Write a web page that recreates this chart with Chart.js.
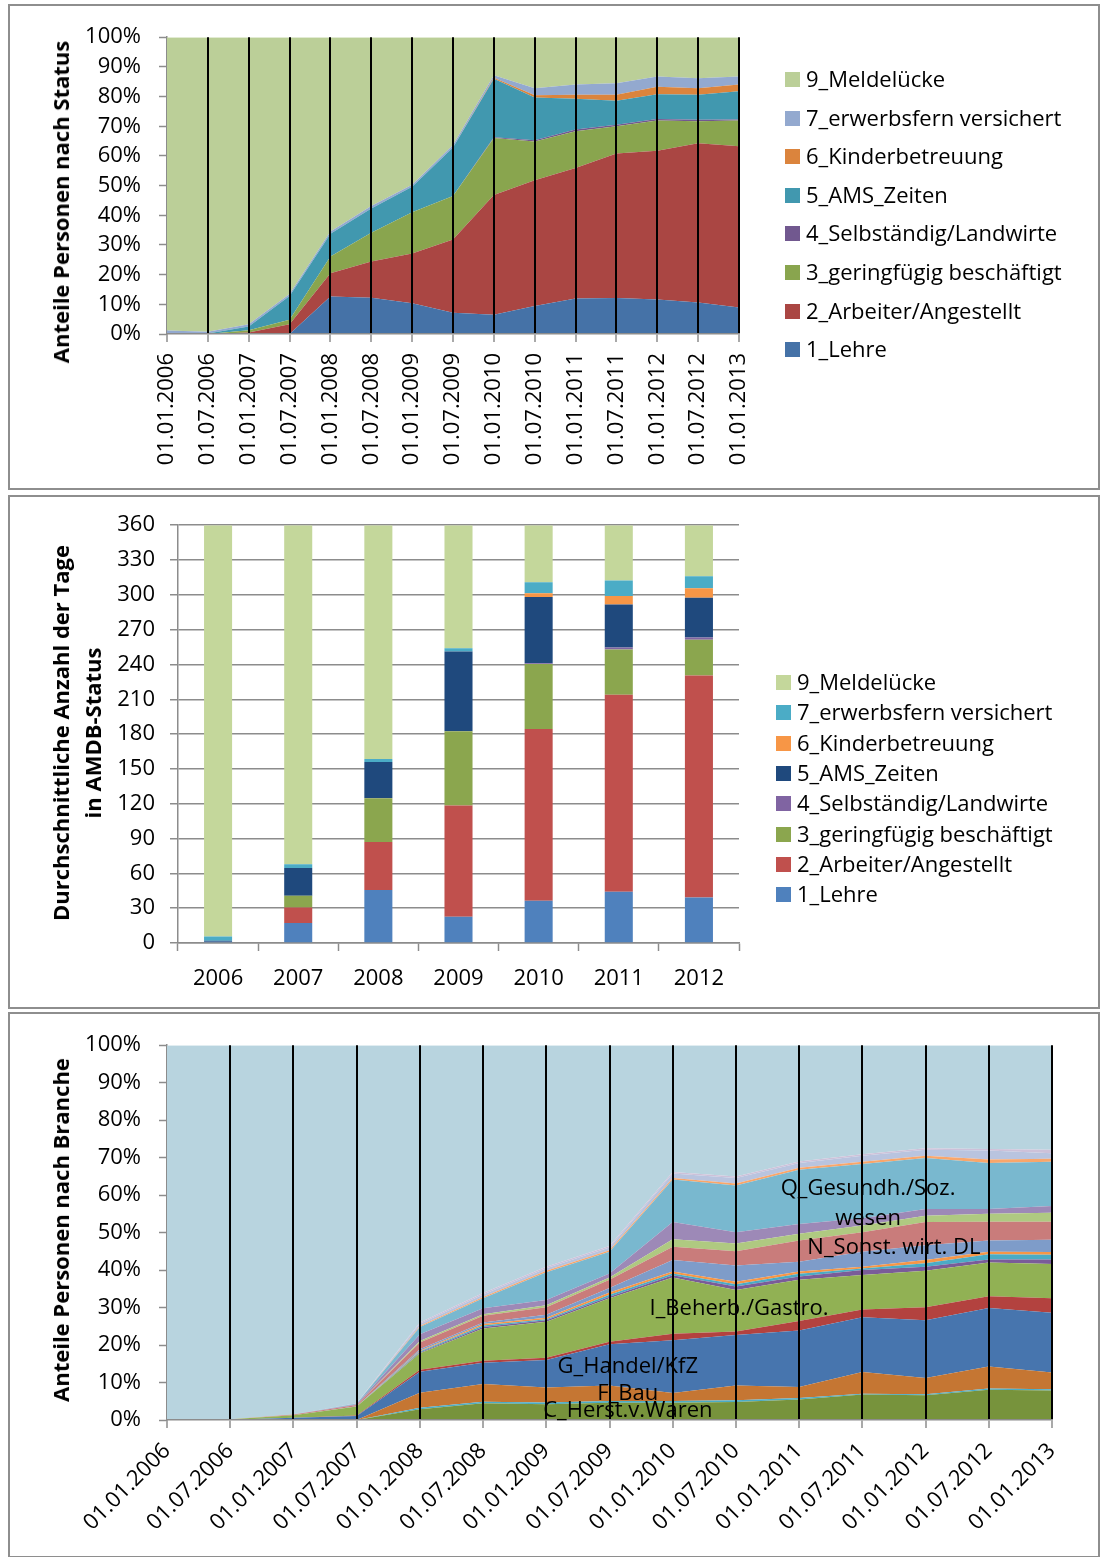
<!DOCTYPE html>
<html lang="de">
<head>
<meta charset="utf-8">
<title>AMDB Status und Branche</title>
<script src="https://cdn.jsdelivr.net/npm/chart.js@4.4.1/dist/chart.umd.min.js"></script>
<style>
  body { margin: 0; background: #fff; font-family: "Open Sans", sans-serif; }
  .panel { position: absolute; left: 8px; width: 1092px; border: 2px solid #8e8e8e; box-sizing: border-box; background: #fff; }
  .panel canvas { position: absolute; left: 0; top: 0; }
  .legend div { position: absolute; white-space: nowrap; height: 26px; line-height: 26px; font-size: 22px; color: #000; }
  .legend span { position: absolute; left: 0; top: 6px; width: 15px; height: 15px; }
  .legend i { font-style: normal; position: absolute; left: 21px; top: -1px; }
  .ytitle { position: absolute; white-space: nowrap; font-weight: bold; font-size: 22px; text-align: center;
            transform: translate(-50%, -50%) rotate(-90deg); color: #000; }
</style>
</head>
<body>
<div class="panel" style="top:4px;height:486px"><canvas id="c1" width="1088" height="482"></canvas></div>
<div class="panel" style="top:495px;height:514px"><canvas id="c2" width="1088" height="510"></canvas></div>
<div class="panel" style="top:1012px;height:546px"><canvas id="c3" width="1088" height="542"></canvas></div>

<div class="ytitle" style="left:60px;top:202px;line-height:26px">Anteile Personen nach Status</div>
<div class="ytitle" style="left:76px;top:733px;line-height:32px">Durchschnittliche Anzahl der Tage<br>in AMDB-Status</div>
<div class="ytitle" style="left:60px;top:1230px;line-height:26px">Anteile Personen nach Branche</div>

<div class="legend" id="leg1"></div>
<div class="legend" id="leg2"></div>

<script>
// ---- data ----
const dateLabels = ['01.01.2006', '01.07.2006', '01.01.2007', '01.07.2007', '01.01.2008', '01.07.2008',
  '01.01.2009', '01.07.2009', '01.01.2010', '01.07.2010', '01.01.2011', '01.07.2011', '01.01.2012',
  '01.07.2012', '01.01.2013'];
const yearLabels = ['2006', '2007', '2008', '2009', '2010', '2011', '2012'];
const statusNames = ['1_Lehre', '2_Arbeiter/Angestellt', '3_geringfügig beschäftigt', '4_Selbständig/Landwirte',
  '5_AMS_Zeiten', '6_Kinderbetreuung', '7_erwerbsfern versichert', '9_Meldelücke'];

// Anteile Personen nach Status (%), je Stichtag
const shareLehre     = [0, 0, 0, 0, 12.6, 12.2, 10.4, 7.2, 6.5, 9.4, 12.0, 12.1, 11.6, 10.6, 8.9];
const shareArbeiter  = [0, 0, 0.5, 3.3, 7.9, 12.2, 16.7, 24.6, 40.3, 42.4, 43.9, 48.7, 50.1, 53.7, 54.4];
const shareGering    = [0, 0, 0.8, 1.5, 5.6, 9.7, 13.9, 14.7, 19.2, 13.1, 12.4, 9.2, 10.2, 7.4, 8.6];
const shareSelbst    = [0, 0, 0, 0, 0, 0, 0, 0, 0.3, 0.4, 0.6, 0.5, 0.5, 0.5, 0.4];
const shareAms       = [0, 0.2, 1.2, 8.0, 7.7, 8.2, 8.6, 16.3, 19.7, 14.4, 10.4, 8.1, 8.4, 8.4, 9.5];
const shareKinder    = [0, 0, 0, 0, 0, 0, 0, 0, 0.3, 0.7, 1.3, 2.0, 2.5, 2.2, 2.3];
const shareErwerb    = [1.2, 0.6, 0.8, 0.7, 0.7, 0.8, 0.7, 0.9, 0.9, 2.4, 3.5, 3.9, 3.5, 3.4, 2.7];
const shareMelde     = [98.8, 99.2, 96.7, 86.5, 65.5, 56.9, 49.7, 36.3, 12.8, 17.2, 15.9, 15.5, 13.2, 13.8, 13.2];

// Durchschnittliche Anzahl der Tage je Jahr
const daysLehre    = [1, 17.2, 45.7, 22.7, 36.5, 44.2, 39.1];
const daysArbeiter = [0, 13.3, 41.4, 95.7, 148, 169.8, 191.3];
const daysGering   = [0, 10.3, 37.6, 64, 56, 38.8, 31];
const daysSelbst   = [0, 0, 0.3, 0.3, 0.5, 1.8, 1.8];
const daysAms      = [1, 23.8, 31.0, 68.4, 57.2, 37, 34.2];
const daysKinder   = [0, 0, 0, 0, 3.2, 7.5, 8.3];
const daysErwerb   = [3.5, 3.2, 2.6, 2.9, 9.5, 13.2, 10.3];
const daysMelde    = [354.5, 292.2, 201.4, 106, 49.1, 47.7, 44.0];

// Anteile Personen nach Branche (%), je Stichtag
const branchNames = ['A_Land/Forst', 'C_Herst.v.Waren', 'D/E_Energie/Wasser', 'F_Bau', 'G_Handel/KfZ', 'H_Verkehr',
  'I_Beherb./Gastro.', 'J_Information', 'K_Finanz', 'L_Grundstücke', 'M_Freiber./techn. DL', 'N_Sonst. wirt. DL',
  'O_Öff. Verwaltung', 'P_Erziehung', 'Q_Gesundh./Soz. wesen', 'R_Kunst/Erholung', 'S_Sonst. DL', 'T_Priv. HH', 'unbekannt'];
const brA   = [0, 0, 0, 0, 0.1, 0.1, 0.3, 0.2, 0.1, 0.1, 0.1, 0.1, 0.1, 0.1, 0.1];
const brC   = [0, 0, 0, 0, 2.8, 4.4, 3.9, 4.4, 4.5, 4.7, 5.4, 6.7, 6.5, 8.0, 7.8];
const brDE  = [0, 0, 0, 0, 0.4, 0.4, 0.5, 0.5, 0.5, 0.5, 0.4, 0.2, 0.3, 0.3, 0.3];
const brF   = [0, 0, 0, 0, 4.0, 4.7, 4.0, 4.1, 2.1, 3.9, 2.9, 5.8, 4.3, 5.9, 4.5];
const brG   = [0, 0.1, 0.6, 1.1, 5.6, 5.7, 7.3, 11.0, 14.1, 13.5, 15.1, 14.6, 15.4, 15.6, 15.9];
const brH   = [0, 0, 0, 0.1, 0.5, 0.5, 0.6, 0.7, 1.7, 0.9, 2.5, 2.1, 3.5, 3.1, 3.9];
const brI   = [0, 0.1, 0.7, 2.4, 4.4, 8.6, 9.6, 11.6, 15.0, 11.1, 11.0, 9.2, 9.7, 9.0, 9.1];
const brJ   = [0, 0, 0, 0, 0.2, 0.4, 0.4, 0.4, 0.6, 0.9, 0.9, 1.3, 1.1, 0.8, 1.2];
const brK   = [0, 0, 0, 0, 0.3, 0.4, 0.3, 0.5, 0.5, 0.6, 0.7, 0.4, 0.9, 1.4, 1.3];
const brL   = [0, 0, 0, 0, 0.2, 0.4, 0.4, 0.6, 0.5, 0.7, 0.6, 0.5, 0.9, 0.7, 0.7];
const brM   = [0, 0, 0, 0.1, 0.4, 0.4, 0.8, 1.2, 3.1, 4.3, 2.6, 4.0, 3.9, 3.0, 3.3];
const brN   = [0, 0, 0.2, 0.3, 1.8, 1.8, 2.0, 2.2, 3.5, 3.8, 5.7, 5.2, 6.2, 5.0, 4.8];
const brO   = [0, 0, 0, 0, 0.4, 0.4, 0.5, 0.6, 2.0, 2.1, 1.8, 1.8, 1.7, 2.1, 2.4];
const brP   = [0, 0, 0, 0.2, 1.8, 1.6, 1.4, 1.1, 4.6, 3.0, 2.6, 1.9, 1.8, 1.3, 1.8];
const brQ   = [0, 0, 0, 0.2, 1.9, 2.7, 7.4, 5.8, 11.4, 12.5, 14.5, 14.5, 13.6, 12.3, 11.8];
const brR   = [0, 0, 0, 0, 0.3, 0.3, 0.4, 0.4, 0.4, 0.5, 0.5, 0.6, 0.6, 0.9, 0.8];
const brS   = [0, 0, 0, 0.1, 0.6, 0.7, 0.7, 0.7, 1.2, 1.5, 1.3, 1.6, 1.6, 2.4, 1.5];
const brT   = [0, 0, 0, 0, 0.3, 0.4, 0.4, 0.4, 0.4, 0.4, 0.4, 0.4, 0.4, 0.4, 0.9];
const brUnb = [100, 99.8, 98.5, 95.5, 74.0, 66.1, 59.1, 53.6, 33.8, 35.0, 31.0, 29.1, 27.5, 27.7, 27.9];

// ---- styles ----
const statusColors1 = ['#4572a7', '#aa4643', '#89a54e', '#71588f', '#4198af', '#db843d', '#93a9cf', '#bbcf98'];
const statusColors2 = ['#4f81bd', '#c0504d', '#8ba64e', '#8064a2', '#1f497d', '#f79646', '#4bacc6', '#c4d79b'];
const branchColors = ['#4f81bd', '#77933c', '#4bacc6', '#c57633', '#4775ae', '#b3423f', '#91b154', '#7a5c99',
  '#4babc5', '#f79646', '#7e9cc9', '#c97c7b', '#afc981', '#9d89b7', '#79b8cf', '#f9a66b', '#b9c4df', '#cdc1d9', '#b8d4df'];
const GRAY = '#8c8c8c';

Chart.defaults.font.family = "'Open Sans'";
Chart.defaults.color = '#000';
Chart.defaults.animation = false;
Chart.defaults.plugins.legend.display = false;
Chart.defaults.plugins.tooltip.enabled = false;

function areaSets(names, series, colors) {
  return series.map((data, i) => ({
    label: names[i], data, backgroundColor: colors[i], borderColor: 'rgba(0,0,0,0)', borderWidth: 1,
    pointRadius: 0, tension: 0, fill: i === 0 ? 'origin' : '-1'
  }));
}

function pctAxis(width) {
  return {
    stacked: true, min: 0, max: 100,
    ticks: { stepSize: 10, callback: v => v + '%', font: { size: 22 }, padding: 18 },
    grid: { drawOnChartArea: false, tickLength: 8, tickColor: GRAY, tickWidth: 1.5 },
    border: { color: GRAY, width: 1.5 },
    afterFit: s => { s.width = width; }
  };
}

function dateAxis(rotation, height, pad) {
  return {
    ticks: { autoSkip: false, minRotation: rotation, maxRotation: rotation, font: { size: 22 }, padding: pad },
    grid: {
      z: 1, color: c => c.index === 0 ? 'rgba(0,0,0,0)' : '#000', lineWidth: 2,
      tickLength: 8, tickColor: GRAY, tickWidth: 1.5
    },
    border: { color: GRAY, width: 1.5, z: 2 },
    afterFit: s => { s.height = height; }
  };
}

function buildLegend(id, names, colors, x, y0, step) {
  const box = document.getElementById(id);
  names.slice().reverse().forEach((name, k) => {
    const row = document.createElement('div');
    row.style.left = x + 'px';
    row.style.top = (y0 + k * step - 13) + 'px';
    const sw = document.createElement('span');
    sw.style.background = colors[names.length - 1 - k];
    const tx = document.createElement('i');
    tx.textContent = name;
    row.appendChild(sw);
    row.appendChild(tx);
    box.appendChild(row);
  });
}

// ---- chart 1: Anteile nach Status ----
new Chart(document.getElementById('c1'), {
  type: 'line',
  data: {
    labels: dateLabels,
    datasets: areaSets(statusNames,
      [shareLehre, shareArbeiter, shareGering, shareSelbst, shareAms, shareKinder, shareErwerb, shareMelde],
      statusColors1)
  },
  options: {
    responsive: false,
    layout: { padding: { left: 33, top: 8, right: 359, bottom: 0 } },
    scales: { x: dateAxis(90, 154, 11), y: pctAxis(124) }
  }
});
buildLegend('leg1', statusNames, statusColors1, 785, 79, 38.6);

// ---- chart 2: Tage je Status ----
new Chart(document.getElementById('c2'), {
  type: 'bar',
  data: {
    labels: yearLabels,
    datasets: [daysLehre, daysArbeiter, daysGering, daysSelbst, daysAms, daysKinder, daysErwerb, daysMelde]
      .map((data, i) => ({
        label: statusNames[i], data, backgroundColor: statusColors2[i], borderWidth: 0,
        categoryPercentage: 1, barPercentage: 0.35
      }))
  },
  options: {
    responsive: false,
    layout: { padding: { left: 30, top: 16, right: 359, bottom: 0 } },
    scales: {
      x: {
        stacked: true,
        ticks: { font: { size: 22 }, padding: 15 },
        grid: { drawOnChartArea: false, offset: true, tickLength: 8, tickColor: GRAY, tickWidth: 1.5 },
        border: { color: GRAY, width: 1.5 },
        afterFit: s => { s.height = 64; }
      },
      y: {
        stacked: true, min: 0, max: 360,
        ticks: { stepSize: 30, font: { size: 22 }, padding: 15 },
        grid: { color: GRAY, lineWidth: 1.5, tickLength: 8, tickColor: GRAY },
        border: { color: GRAY, width: 1.5 },
        afterFit: s => { s.width = 138; }
      }
    }
  }
});
buildLegend('leg2', statusNames, statusColors2, 776, 682, 30.3);

// ---- chart 3: Anteile nach Branche ----
const branchText = {
  id: 'branchText',
  afterDraw(chart) {
    const { ctx, scales: { x, y } } = chart;
    const notes = [
      ['Q_Gesundh./Soz.', 11.09, 61.7], ['wesen', 11.09, 53.6], ['N_Sonst. wirt. DL', 11.5, 45.9],
      ['I_Beherb./Gastro.', 9.05, 29.8], ['G_Handel/KfZ', 7.29, 14.2], ['F_Bau', 7.29, 6.9],
      ['C_Herst.v.Waren', 7.29, 2.4]
    ];
    ctx.save();
    ctx.font = "22px 'Open Sans'";
    ctx.fillStyle = '#000';
    ctx.textAlign = 'center';
    ctx.textBaseline = 'middle';
    notes.forEach(([t, i, v]) => ctx.fillText(t, x.getPixelForValue(i), y.getPixelForValue(v)));
    ctx.restore();
  }
};

new Chart(document.getElementById('c3'), {
  type: 'line',
  data: {
    labels: dateLabels,
    datasets: areaSets(branchNames,
      [brA, brC, brDE, brF, brG, brH, brI, brJ, brK, brL, brM, brN, brO, brP, brQ, brR, brS, brT, brUnb],
      branchColors)
  },
  options: {
    responsive: false,
    layout: { padding: { left: 33, top: 8, right: 46, bottom: 0 } },
    scales: { x: dateAxis(45, 136, 10), y: pctAxis(124) }
  },
  plugins: [branchText]
});
</script>
</body>
</html>
